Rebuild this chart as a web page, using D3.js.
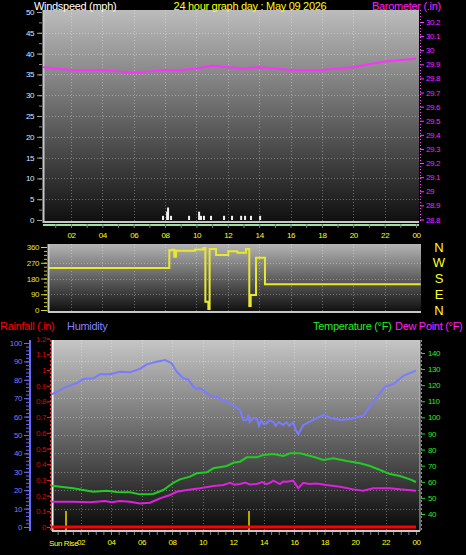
<!DOCTYPE html>
<html><head><meta charset="utf-8">
<script src="https://cdn.jsdelivr.net/npm/d3@7"></script>
<style>
body{margin:0;background:#000;}
svg{display:block;font-family:"Liberation Sans",Arial,sans-serif;}
</style>
</head><body>
<svg id="c" width="466" height="555"></svg>
<script>
// ---------- DATA ----------
const titleText = "24 hour graph day : May 09 2026";
const hourTicks = [2,4,6,8,10,12,14,16,18,20,22,24];
const hourLabels = ["02","04","06","08","10","12","14","16","18","20","22","00"];
const windTicks = [0,5,10,15,20,25,30,35,40,45,50];
const baroTicks = [28.8,28.9,29,29.1,29.2,29.3,29.4,29.5,29.6,29.7,29.8,29.9,30,30.1,30.2];

const windTimes  = [7.87,8.13,8.19,8.38,9.53,10.17,10.29,10.48,10.93,11.76,12.27,12.85,13.10,13.48,14.06];
const windSpeeds = [1,2,3,1,1,2,1,1,1,1,1,1,1,1,1];

const baroTimes  = [0.2,1,2,3,4,5,6,7,8,9,10,11,12,13,14,15,16,17,18,19,20,21,22,23,24];
const baroValues = [29.88,29.87,29.86,29.86,29.86,29.85,29.84,29.85,29.86,29.86,29.87,29.89,29.88,29.87,29.88,29.87,29.86,29.86,29.86,29.87,29.88,29.90,29.92,29.93,29.94];

const dirTimes  = [0.6,8.27,8.45,8.59,8.70,9.91,10.44,10.57,10.76,10.84,11.25,12.03,12.61,13.16,13.37,13.46,13.80,14.37,24.3];
const dirValues = [240,342,345,304,338,346,355,47,6,348,314,336,327,348,23,86,298,147,147];
const dirTicks = [0,90,180,270,360];
const dirLetters = ["N","E","S","W","N"];

const humTimes  = [0.11,1.10,1.75,2.18,2.84,3.28,3.93,4.59,5.25,5.90,6.34,7.0,7.54,7.98,8.31,8.74,9.07,9.40,9.6,9.8,10.05,10.3,10.49,10.8,11.0,11.15,11.4,11.59,11.8,12.02,12.2,12.46,12.6,12.7,12.9,13.0,13.1,13.3,13.55,13.7,13.85,14.0,14.21,14.4,14.64,14.8,15.0,15.3,15.5,15.7,15.95,16.1,16.28,16.45,16.61,17.27,17.92,18.36,19.02,19.67,20.54,21.20,21.97,22.51,23.17,24];
const humValues = [72.1,76.3,78.1,80.4,80.8,83.0,83.0,84.4,84.1,85.9,88.4,89.8,90.8,89.0,84.4,80.8,80.1,76.3,75.0,75.5,74.5,72.5,71.7,70.5,70.8,69.4,69.0,68.1,67.0,66.3,65.0,63.6,60.0,58.0,58.2,61.0,57.0,59.0,59.1,55.0,58.0,56.0,56.4,58.0,57.2,55.0,57.0,55.4,57.0,55.0,56.9,53.0,50.4,53.0,55.4,58.2,60.9,59.4,58.2,58.7,60.5,68.1,76.3,77.6,82.2,85.0];

const tempTimes  = [0.13,1.53,2.18,2.84,3.72,4.37,5.25,5.90,6.77,7.43,8.09,8.52,9.18,9.62,10.28,10.71,11.59,12.02,12.46,12.90,13.55,13.99,14.64,15.30,15.74,16.39,17.27,17.92,18.58,19.46,20.33,20.98,21.64,22.30,22.95,23.61,24];
const tempValues = [57.6,56.0,54.9,53.8,54.5,53.7,53.5,52.2,52.4,54.9,59.4,61.5,63.2,65.3,65.9,68.4,69.8,71.8,72.5,75.2,75.2,76.6,77.2,76.0,77.7,77.7,75.6,73.5,74.6,72.9,71.5,69.8,67.3,64.8,63.6,61.5,59.9];

const dewTimes  = [0.13,1.53,2.62,3.61,4.05,4.59,5.25,5.90,6.56,7.21,7.87,8.31,8.96,9.84,10.71,11.36,11.80,12.1,12.46,12.8,13.1,13.55,13.9,14.2,14.43,14.64,15.08,15.3,15.52,15.95,16.28,16.61,17.0,17.49,18.14,19.02,19.89,20.54,21.20,22.30,22.95,24];
const dewValues = [47.6,47.6,47.3,48.1,47.3,48.1,47.6,46.6,47.0,49.7,51.8,53.8,54.9,56.0,57.4,58.0,59.4,58.2,58.6,59.6,58.4,58.6,59.8,58.5,59.4,60.7,58.6,60.2,60.0,60.7,56.0,59.4,58.6,59.0,58.0,56.9,55.3,54.5,56.0,56.0,55.3,54.5];

const rainTimes  = [0,24];
const rainValues = [0,0];
const sunTimes = [1.05,13.05];
const sunLabel = "Sun Rise";

const humTicks  = [0,10,20,30,40,50,60,70,80,90,100];
const rainTicks = [0,0.1,0.2,0.3,0.4,0.5,0.6,0.7,0.8,0.9,1,1.1,1.2];
const tempTicks = [40,50,60,70,80,90,100,110,120,130,140];

// ---------- SCALES ----------
const tTop  = d3.scaleLinear([0,24],[39.6,416]);
const windY = d3.scaleLinear([0,50],[220,12]);
const baroY = d3.scaleLinear([28.8,30.2],[219.5,22]);
const dirY  = d3.scaleLinear([0,360],[310,247]);
const tBot  = d3.scaleLinear([0,24],[50,416]);
const humY  = d3.scaleLinear([0,100],[527,343]);
const rainY = d3.scaleLinear([0,1.2],[527,338.6]);
const tempY = d3.scaleLinear([40,140],[514,353]);

const P1 = {x0:43,x1:419,y0:10,y1:221};
const P2 = {x0:48,x1:421,y0:244,y1:312};
const P3 = {x0:52,x1:420,y0:340,y1:531};

const svg = d3.select("#c");
svg.append("rect").attr("width",466).attr("height",555).attr("fill","#000");
const defs = svg.append("defs");
function grad(id,c0,c1){
  const g = defs.append("linearGradient").attr("id",id).attr("x1",0).attr("y1",0).attr("x2",0).attr("y2",1);
  g.append("stop").attr("offset","0%").attr("stop-color",c0);
  g.append("stop").attr("offset","100%").attr("stop-color",c1);
}
grad("g1","#bcbcbc","#101010");
grad("g2","#b4b4b4","#0e0e0e");
grad("g3","#c6c6c6","#080808");
function clip(id,P){
  defs.append("clipPath").attr("id",id).append("rect")
    .attr("x",P.x0).attr("y",P.y0).attr("width",P.x1-P.x0).attr("height",P.y1-P.y0);
}
clip("c1",P1);clip("c2",P2);clip("c3",P3);

function panel(P,g){
  svg.append("rect").attr("x",P.x0).attr("y",P.y0).attr("width",P.x1-P.x0).attr("height",P.y1-P.y0)
    .attr("fill","url(#"+g+")");
}
panel(P1,"g1");panel(P2,"g2");panel(P3,"g3");

const gridCol = "rgba(255,255,255,0.33)";
function hgrid(P,ys){
  svg.append("g").selectAll("line").data(ys).join("line")
    .attr("x1",P.x0).attr("x2",P.x1).attr("y1",d=>d).attr("y2",d=>d)
    .attr("stroke",gridCol).attr("stroke-dasharray","1,2");
}
function vgrid(P,xs){
  svg.append("g").selectAll("line").data(xs).join("line")
    .attr("y1",P.y0).attr("y2",P.y1).attr("x1",d=>d).attr("x2",d=>d)
    .attr("stroke",gridCol).attr("stroke-dasharray","1,2");
}
hgrid(P1, windTicks.slice(1,-1).map(d=>Math.round(windY(d))+0.5));
vgrid(P1, hourTicks.slice(0,-1).map(d=>Math.round(tTop(d))+0.5));
hgrid(P2, dirTicks.slice(1,-1).map(d=>Math.round(dirY(d))+0.5));
vgrid(P2, hourTicks.slice(0,-1).map(d=>Math.round(tTop(d))+0.5));
hgrid(P3, humTicks.slice(1,-1).map(d=>Math.round(humY(d))+0.5));
vgrid(P3, hourTicks.slice(0,-1).map(d=>Math.round(tBot(d))+0.5));

// borders
function bline(x1,y1,x2,y2,c,w){return svg.append("line").attr("x1",x1).attr("y1",y1).attr("x2",x2).attr("y2",y2).attr("stroke",c).attr("stroke-width",w||1);}
bline(P1.x0+0.5,P1.y0,P1.x0+0.5,P1.y1+2,"#c8c8c8",2);
bline(P1.x0,P1.y1+1,P1.x1,P1.y1+1,"#c8c8c8",2);
bline(P1.x0,P1.y1+4,P1.x1,P1.y1+4,"#9ee09e",2);
bline(P2.x0+0.5,P2.y0,P2.x0+0.5,P2.y1,"#c8c8c8",2);
bline(P2.x0,P2.y1,P2.x1,P2.y1,"#c8c8c8",2);
bline(P3.x0+0.5,P3.y0,P3.x0+0.5,P3.y1,"#ffffff",2);
bline(P3.x0,P3.y1,P3.x1,P3.y1,"#c8c8c8",2);
bline(P3.x1,P3.y0,P3.x1,P3.y1,"#c8c8c8",1);

// ---------- MARKS ----------
svg.append("g").attr("clip-path","url(#c1)").selectAll("rect").data(windTimes).join("rect")
  .attr("x",(d)=>tTop(d)-1).attr("width",2)
  .attr("y",(d,i)=>windY(windSpeeds[i])).attr("height",(d,i)=>windY(0)-windY(windSpeeds[i]))
  .attr("fill","#f0f0f0");
svg.append("path").attr("clip-path","url(#c1)")
  .datum(baroTimes.map((t,i)=>[t,baroValues[i]]))
  .attr("d",d3.line().x(d=>tTop(d[0])).y(d=>baroY(d[1])))
  .attr("fill","none").attr("stroke","#ff30ff").attr("stroke-width",2);
svg.append("path").attr("clip-path","url(#c2)")
  .datum(dirTimes.map((t,i)=>[t,dirValues[i]]))
  .attr("d",d3.line().curve(d3.curveStepAfter).x(d=>tTop(d[0])).y(d=>dirY(d[1])))
  .attr("fill","none").attr("stroke","#e8e830").attr("stroke-width",2);
svg.append("path").attr("clip-path","url(#c3)")
  .datum(humTimes.map((t,i)=>[t,humValues[i]]))
  .attr("d",d3.line().x(d=>tBot(d[0])).y(d=>humY(d[1])))
  .attr("fill","none").attr("stroke","#7a7aff").attr("stroke-width",2);
svg.append("path").attr("clip-path","url(#c3)")
  .datum(tempTimes.map((t,i)=>[t,tempValues[i]]))
  .attr("d",d3.line().x(d=>tBot(d[0])).y(d=>tempY(d[1])))
  .attr("fill","none").attr("stroke","#22cc22").attr("stroke-width",2);
svg.append("path").attr("clip-path","url(#c3)")
  .datum(dewTimes.map((t,i)=>[t,dewValues[i]]))
  .attr("d",d3.line().x(d=>tBot(d[0])).y(d=>tempY(d[1])))
  .attr("fill","none").attr("stroke","#e020e0").attr("stroke-width",2);
svg.append("g").selectAll("line").data(sunTimes).join("line")
  .attr("x1",d=>tBot(d)).attr("x2",d=>tBot(d)).attr("y1",511).attr("y2",530)
  .attr("stroke","#b8a800").attr("stroke-width",2);
svg.append("path").attr("clip-path","url(#c3)")
  .datum(rainTimes.map((t,i)=>[t,rainValues[i]]))
  .attr("d",d3.line().x(d=>tBot(d[0])).y(d=>rainY(d[1])))
  .attr("fill","none").attr("stroke","#ff0000").attr("stroke-width",3);

// ---------- AXES ----------
const labFont = "8px";
function styleAxis(g,tickCol,textCol){
  g.select(".domain").remove();
  g.selectAll(".tick line").attr("stroke",tickCol);
  g.selectAll("text").attr("fill",textCol).attr("font-size",labFont).attr("letter-spacing","-0.4px")
    .attr("font-family","Liberation Sans, Arial, sans-serif");
}
function minor(axisFn,scale,vals,x,len,col,y){
  const g = svg.append("g").attr("transform","translate("+(x||0)+","+(y||0)+")")
    .call(axisFn(scale).tickValues(vals).tickSize(len).tickFormat(""));
  g.select(".domain").remove();
  g.selectAll(".tick line").attr("stroke",col);
}
minor(d3.axisLeft,windY,d3.range(0,50.1,2.5),42,3,"#909090");
let g = svg.append("g").attr("transform","translate(42,0)")
  .call(d3.axisLeft(windY).tickValues(windTicks).tickSize(5).tickPadding(3).tickFormat(d3.format("d")));
styleAxis(g,"#a0a0a0","#dfe6ff");
bline(420.5,P1.y0,420.5,P1.y1,"#ff40ff",1).attr("stroke-dasharray","1,2");
g = svg.append("g").attr("transform","translate(420,0)")
  .call(d3.axisRight(baroY).tickValues(baroTicks).tickSize(4).tickPadding(2).tickFormat(d=>String(+d.toFixed(1))));
styleAxis(g,"#ff40ff","#ff20ff");
minor(d3.axisBottom,tTop,d3.range(1,24.1,1),0,4,"#808080",224);
g = svg.append("g").attr("transform","translate(0,227)")
  .call(d3.axisBottom(tTop).tickValues(hourTicks).tickSize(0).tickPadding(5).tickFormat((d,i)=>hourLabels[i]));
styleAxis(g,"#808080","#ffff00");

minor(d3.axisLeft,dirY,d3.range(0,360.1,22.5),47,3,"#c8c820");
g = svg.append("g").attr("transform","translate(47,0)")
  .call(d3.axisLeft(dirY).tickValues(dirTicks).tickSize(6).tickPadding(2).tickFormat(d3.format("d")));
styleAxis(g,"#d8d820","#e8e820");
svg.append("g").selectAll("text").data(dirTicks).join("text")
  .attr("x",439).attr("y",d=>dirY(d)).attr("dy","0.35em").attr("text-anchor","middle")
  .attr("fill","#ffff20").attr("font-size","13px").text((d,i)=>dirLetters[i]);

bline(30,P3.y0,30,P3.y1,"#6a6aff",2);
minor(d3.axisLeft,humY,d3.range(0,100.1,2),29,3,"#6a6aff");
g = svg.append("g").attr("transform","translate(29,0)")
  .call(d3.axisLeft(humY).tickValues(humTicks).tickSize(5).tickPadding(2).tickFormat(d3.format("d")));
styleAxis(g,"#6a6aff","#7a7aff");
svg.append("line").attr("x1",50.5).attr("x2",50.5).attr("y1",P3.y0).attr("y2",P3.y1)
  .attr("stroke","#ff2020").attr("stroke-dasharray","2,2");
g = svg.append("g").attr("transform","translate(50,0)")
  .call(d3.axisLeft(rainY).tickValues(rainTicks).tickSize(3).tickPadding(1).tickFormat(d=>String(+d.toFixed(1))));
styleAxis(g,"#ff2020","#e00000");
svg.append("line").attr("x1",421.5).attr("x2",421.5).attr("y1",P3.y0).attr("y2",P3.y1)
  .attr("stroke","#22dd22").attr("stroke-dasharray","2,2");
g = svg.append("g").attr("transform","translate(421,0)")
  .call(d3.axisRight(tempY).tickValues(tempTicks).tickSize(4).tickPadding(3).tickFormat(d3.format("d")));
styleAxis(g,"#22dd22","#22ee22");
minor(d3.axisBottom,tBot,d3.range(0.5,24.1,0.5),0,3,"#808080",532);
g = svg.append("g").attr("transform","translate(0,534)")
  .call(d3.axisBottom(tBot).tickValues(hourTicks).tickSize(0).tickPadding(5).tickFormat((d,i)=>hourLabels[i]));
styleAxis(g,"#808080","#ffff00");
svg.append("text").attr("x",49).attr("y",546).attr("fill","#ffff00").attr("font-size",labFont)
  .attr("letter-spacing","-0.4px").text(sunLabel);

// ---------- TITLES / LEGENDS ----------
function label(txt,x,y,col,anchor){
  svg.append("text").attr("x",x).attr("y",y).attr("fill",col).attr("font-size","11px")
    .attr("text-anchor",anchor||"start").attr("letter-spacing","-0.3px").text(txt);
}
label("Windspeed (mph)",34,10,"#ffffff");
label(titleText,250,10,"#ffff00","middle");
label("Barometer (.in)",372,10,"#ff20ff");
label("Rainfall (.in)",0,330,"#ff0000");
label("Humidity",67,330,"#8080ff");
label("Temperature (°F)",313,330,"#22ee22");
label("Dew Point (°F)",395,330,"#ff20ff");
</script>
</body></html>
